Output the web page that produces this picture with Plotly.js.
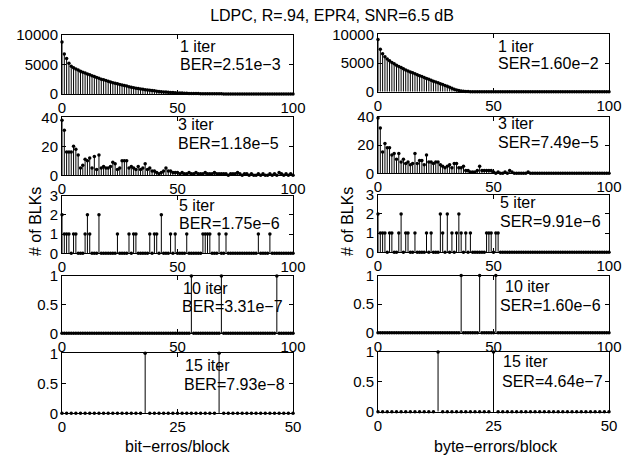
<!DOCTYPE html>
<html>
<head>
<meta charset="utf-8">
<script src="https://cdn.plot.ly/plotly-3.0.1.min.js"></script>
<style>html,body{margin:0;padding:0;background:#fff;}#chart{width:634px;height:457px;}</style>
</head>
<body>
<div id="chart"></div>
<script>
// ---------------- data ----------------
const chartTitle = "LDPC, R=.94, EPR4, SNR=6.5 dB";
const leftXLabel = "bit\u2212erros/block";
const rightXLabel = "byte\u2212errors/block";
const yLabel = "# of BLKs";

const iterLabels = ["1 iter", "3 iter", "5 iter", "10 iter", "15 iter"];
const berLabels = ["BER=2.51e\u22123", "BER=1.18e\u22125", "BER=1.75e\u22126", "BER=3.31e\u22127", "BER=7.93e\u22128"];
const serLabels = ["SER=1.60e\u22122", "SER=7.49e\u22125", "SER=9.91e\u22126", "SER=1.60e\u22126", "SER=4.64e\u22127"];

// 1 iteration, bit errors per block (x = 0..100)
const bit1 = [8800, 6800, 6000, 5200, 4700, 4450, 4250, 4050, 3850, 3700,
  3550, 3400, 3250, 3100, 2950, 2800, 2650, 2500, 2400, 2280,
  2160, 2040, 1920, 1820, 1720, 1620, 1530, 1440, 1340, 1240,
  1150, 1070, 990, 920, 850, 790, 730, 680, 630, 580,
  530, 480, 440, 400, 360, 330, 300, 270, 240, 215,
  190, 170, 150, 135, 120, 105, 95, 85, 75, 65,
  58, 52, 46, 41, 37, 33, 30, 27, 24, 22,
  20, 18, 16, 15, 13, 12, 11, 10, 9, 8,
  8, 7, 6, 6, 5, 5, 4, 4, 4, 3,
  3, 3, 3, 2, 2, 2, 2, 2, 1, 1, 1];
// 1 iteration, byte errors per block
const byte1 = [9100, 7400, 6600, 6100, 5700, 5400, 5100, 4850, 4600, 4400,
  4200, 4000, 3800, 3620, 3450, 3280, 3120, 2960, 2800, 2640,
  2480, 2320, 2160, 2000, 1840, 1690, 1540, 1390, 1240, 1090,
  930, 760, 590, 430, 300, 190, 110, 60, 35, 20,
  12, 9, 7, 5, 4, 3, 3, 2, 2, 2,
  1, 1, 1, 1, 1, 1, 0, 0, 0, 0,
  0, 0, 0, 0, 0, 0, 0, 0, 0, 0,
  0, 0, 0, 0, 0, 0, 0, 0, 0, 0,
  0, 0, 0, 0, 0, 0, 0, 0, 0, 0,
  0, 0, 0, 0, 0, 0, 0, 0, 0, 0, 0];
// 3 iterations
const bit3 = [38, 31, 16, 16, 16, 20, 18, 14, 5, 7,
  11, 10, 12, 5, 13, 4, 14, 5, 6, 5,
  5, 6, 9, 8, 4, 5, 10, 10, 10, 5,
  6, 5, 4, 6, 4, 5, 8, 4, 5, 3,
  3, 2, 1, 2, 3, 5, 3, 3, 2, 2,
  2, 1, 2, 1, 1, 2, 1, 1, 2, 1,
  1, 1, 2, 1, 1, 1, 2, 1, 1, 1,
  1, 1, 0, 1, 1, 1, 2, 1, 0, 1,
  1, 0, 1, 0, 0, 1, 0, 1, 0, 0,
  1, 0, 1, 0, 2, 1, 0, 1, 0, 1, 0];
const byte3 = [39, 32, 15, 21, 18, 18, 13, 14, 10, 14,
  8, 10, 7, 8, 6, 7, 14, 7, 9, 9,
  6, 13, 8, 8, 7, 8, 8, 6, 5, 4,
  5, 6, 4, 7, 7, 4, 4, 5, 2, 2,
  1, 1, 1, 2, 5, 2, 2, 2, 2, 2,
  1, 0, 1, 0, 0, 1, 0, 2, 1, 0,
  0, 0, 0, 0, 0, 1, 0, 0, 0, 0,
  0, 0, 0, 0, 0, 0, 0, 0, 0, 0,
  0, 0, 0, 0, 0, 0, 0, 0, 0, 0,
  0, 0, 0, 0, 0, 0, 0, 0, 0, 0, 0];
// 5 iterations (sparse: position -> count)
const bit5X = [0, 1, 2, 3, 5, 6, 10, 11, 12, 16, 24, 29, 31, 32, 38, 40, 41, 43, 47, 49, 54, 61, 62, 63, 64, 68, 71, 85, 90];
const bit5Y = [2, 1, 1, 1, 1, 1, 1, 2, 1, 2, 1, 1, 1, 1, 1, 1, 1, 2, 1, 1, 1, 1, 1, 1, 1, 1, 1, 1, 1];
const byte5X = [0, 1, 2, 3, 5, 6, 9, 10, 12, 13, 16, 21, 23, 27, 28, 30, 32, 34, 35, 36, 38, 40, 47, 48, 49, 51, 52];
const byte5Y = [2, 1, 1, 1, 1, 1, 1, 2, 1, 1, 1, 1, 1, 2, 1, 2, 1, 1, 2, 1, 1, 1, 1, 1, 1, 1, 1];
// 10 iterations
const bit10X = [56, 69, 93];
const bit10Y = [1, 1, 1];
const byte10X = [36, 44, 51];
const byte10Y = [1, 1, 1];
// 15 iterations (x = 0..50)
const bit15X = [18, 34];
const bit15Y = [1, 1];
const byte15X = [13, 25];
const byte15Y = [1, 1];

const xTicks100 = [0, 50, 100];
const xTicks50 = [0, 25, 50];
const yTicksRow = [[0, 5000, 10000], [0, 20, 40], [0, 1, 2, 3], [0, 0.5, 1], [0, 0.5, 1]];
const yTickText = [["0", "5000", "10000"], ["0", "20", "40"], ["0", "1", "2", "3"], ["0", "0.5", "1"], ["0", "0.5", "1"]];

// --------------- helpers ---------------
function dense(xs, ys, n) {
  const v = new Array(n + 1).fill(0);
  xs.forEach((x, i) => { v[x] = ys[i]; });
  return v;
}
function range(n) { const a = []; for (let i = 0; i <= n; i++) a.push(i); return a; }

const panels = [
  [bit1, byte1],
  [bit3, byte3],
  [dense(bit5X, bit5Y, 100), dense(byte5X, byte5Y, 100)],
  [dense(bit10X, bit10Y, 100), dense(byte10X, byte10Y, 100)],
  [dense(bit15X, bit15Y, 50), dense(byte15X, byte15Y, 50)]
];
const xMax = [100, 100, 100, 100, 50];
const yMax = [10000, 40, 3, 1, 1];

// --------------- layout geometry (pixels) ---------------
const W = 634, H = 457;
const colX = [[62, 293], [378, 609]];
const rowY = [
  [[35, 94], [34.3, 91.7]],
  [[117.3, 175.3], [116.7, 173.3]],
  [[195.5, 253.3], [194.7, 252.3]],
  [[276, 333.3], [275.5, 332.7]],
  [[353.3, 413.3], [352, 411.7]]
];
const txtPos = [
  [[[180, 46.7], [180, 65]], [[498, 46], [498, 63.3]]],
  [[[178.3, 125], [178.3, 143.3]], [[498, 123.3], [498, 142.3]]],
  [[[179, 205], [179, 223.3]], [[499.7, 202.7], [499.7, 221.7]]],
  [[[182.7, 288.3], [181.7, 306.7]], [[505, 286], [500, 305]]],
  [[[185, 365], [184, 384]], [[502.7, 361.7], [501.7, 381.7]]]
];

const FONT = "Liberation Sans, Arial, Helvetica, sans-serif";
const traces = [];
const layout = {
  width: W, height: H,
  margin: {l: 0, r: 0, t: 0, b: 0},
  paper_bgcolor: "#fff", plot_bgcolor: "#fff",
  showlegend: false,
  font: {family: FONT, size: 15, color: "#000"},
  title: {text: chartTitle, x: 332 / W, xanchor: "center", y: 1 - 15 / H, yanchor: "middle",
          font: {family: FONT, size: 16, color: "#000"}},
  annotations: []
};

for (let r = 0; r < 5; r++) {
  for (let c = 0; c < 2; c++) {
    const idx = r * 2 + c + 1;
    const xs = idx === 1 ? "" : String(idx);
    const vals = panels[r][c];
    const xv = range(xMax[r]);
    traces.push({
      type: "scatter", mode: "markers",
      x: xv, y: vals,
      xaxis: "x" + xs, yaxis: "y" + xs,
      cliponaxis: false,
      marker: {color: "#000", size: 3.5},
      error_y: {type: "data", symmetric: false, array: vals.map(() => 0), arrayminus: vals,
                color: "#000", thickness: 1, width: 0},
      hoverinfo: "skip"
    });
    const ax = {
      domain: [colX[c][0] / W, colX[c][1] / W],
      range: [0, xMax[r]],
      tickvals: r === 4 ? xTicks50 : xTicks100,
      ticktext: (r === 4 ? xTicks50 : xTicks100).map(String),
      ticks: "inside", ticklen: 4, tickcolor: "#000",
      showline: true, linecolor: "#000", linewidth: 1, mirror: "ticks",
      showgrid: false, zeroline: false,
      anchor: "y" + xs,
      tickfont: {family: FONT, size: 15, color: "#000"}
    };
    const yy = rowY[r][c];
    const ay = {
      domain: [1 - yy[1] / H, 1 - yy[0] / H],
      range: [0, yMax[r]],
      tickvals: yTicksRow[r], ticktext: yTickText[r],
      ticks: "inside", ticklen: 4, tickcolor: "#000",
      showline: true, linecolor: "#000", linewidth: 1, mirror: "ticks",
      showgrid: false, zeroline: false,
      anchor: "x" + xs,
      tickfont: {family: FONT, size: 15, color: "#000"}
    };
    layout["xaxis" + xs] = ax;
    layout["yaxis" + xs] = ay;
    const lines = [iterLabels[r], c === 0 ? berLabels[r] : serLabels[r]];
    lines.forEach((t, k) => {
      const p = txtPos[r][c][k];
      layout.annotations.push({
        text: t, xref: "paper", yref: "paper",
        x: (p[0] - 2) / W, y: 1 - p[1] / H, xanchor: "left", yanchor: "middle",
        showarrow: false, font: {family: FONT, size: 16, color: "#000"}
      });
    });
  }
}
// axis labels
layout.annotations.push({text: leftXLabel, xref: "paper", yref: "paper", x: 178 / W, y: 1 - 446 / H,
  xanchor: "center", yanchor: "middle", showarrow: false, font: {family: FONT, size: 16, color: "#000"}});
layout.annotations.push({text: rightXLabel, xref: "paper", yref: "paper", x: 496 / W, y: 1 - 446 / H,
  xanchor: "center", yanchor: "middle", showarrow: false, font: {family: FONT, size: 16, color: "#000"}});
[35, 347].forEach(px => {
  layout.annotations.push({text: yLabel, xref: "paper", yref: "paper", x: px / W, y: 1 - 222 / H,
    xanchor: "center", yanchor: "middle", textangle: -90, showarrow: false,
    font: {family: FONT, size: 16, color: "#000"}});
});

Plotly.newPlot("chart", traces, layout, {staticPlot: true, displayModeBar: false});
</script>
</body>
</html>
